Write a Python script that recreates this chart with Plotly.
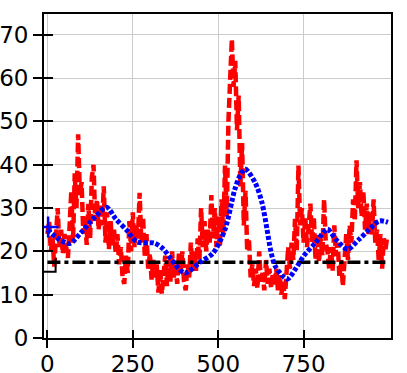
import plotly.graph_objects as go

# noisy signal, every 5 samples
red_x = list(range(0, 1000, 5))
red_y = [
    24, 27, 20, 23, 16.5, 25, 30, 21, 25, 19.5, 24, 21, 18.5, 26, 34, 22, 38, 30, 47, 33,
    36, 24, 28, 21.5, 31, 23, 37, 40, 27, 32, 25, 31, 26, 35, 22, 29, 20.5, 27, 21, 25,
    19.5, 24, 17, 21, 14, 12.5, 19, 15, 27, 20, 29, 21, 26, 23, 33.5, 22, 28, 19, 24, 16,
    19.5, 13.5, 18, 14, 17, 10.5, 16, 10.2, 15, 19, 12, 18, 13, 20, 14, 17, 12.5, 19.5, 15, 20,
    13, 11, 17, 14, 22, 16, 20, 15.5, 23, 18, 30, 21, 27, 20, 25, 22, 33, 23, 30, 21,
    28, 21, 32, 24, 39.8, 28, 50, 60, 69, 58, 64, 48, 56, 35, 45, 26, 34, 20, 23, 14,
    17, 12, 16, 11.5, 20, 13, 15, 11, 18, 12.5, 16, 11.5, 15, 12, 16, 11, 14.5, 10, 13, 9,
    17, 21, 16, 22, 18, 27.5, 20, 39.8, 26, 30, 22, 28, 21, 25, 31, 22, 28, 18, 24, 17.5,
    23, 19, 32, 22, 20, 16, 21, 15.5, 26, 19, 22, 14, 18, 12, 20, 24, 18, 26, 22, 32,
    27, 41, 30, 36, 28, 34, 25, 31, 24, 29, 23.5, 32, 22, 25, 18, 24, 16, 23, 20.5, 23.5,
]

# smoothed curve
blue_x = [0, 30, 65, 100, 140, 173, 200, 232, 262, 314, 340, 364, 402, 447, 485, 520, 549,
          564, 579, 608, 628, 643, 653, 667, 702, 726, 751, 785, 820, 844, 879, 913, 972, 997]
blue_y = [25, 23, 21.8, 24.5, 28, 30.2, 27.5, 24.9, 22.2, 21.9, 20.5, 18, 15, 17.5, 19.6, 25.1, 34.4,
          37.5, 39, 35.9, 31.3, 25.1, 20.5, 16.6, 13.6, 15.9, 19, 22, 25.1, 22.8, 20.5, 22.8, 27, 26.7]

# mean level and the small step at the start
level_x = [0, 995]
level_y = [17.5, 17.5]
step_x = [-10, 24, 24]
step_y = [15.3, 15.3, 18.4]
start_x = [2]
start_y = [25.6]

y_ticks = [0, 10, 20, 30, 40, 50, 60, 70]
x_ticks = [0, 250, 500, 750]

fig = go.Figure()
fig.add_trace(go.Scatter(x=red_x, y=red_y, mode='lines',
                         line=dict(color='#ff0000', width=4.5, dash='10px,4px')))
fig.add_trace(go.Scatter(x=step_x, y=step_y, mode='lines',
                         line=dict(color='black', width=2)))
fig.add_trace(go.Scatter(x=level_x, y=level_y, mode='lines',
                         line=dict(color='black', width=3.5, dash='13px,4px,4px,4px')))
fig.add_trace(go.Scatter(x=blue_x, y=blue_y, mode='lines',
                         line=dict(color='#0000ff', width=5, dash='4px,2px', shape='spline', smoothing=0.8)))
fig.add_trace(go.Scatter(x=start_x, y=start_y, mode='markers',
                         marker=dict(symbol='cross-thin', size=15, line=dict(color='#0000ff', width=2.5))))
# invisible copy so the second axes (inner tick halves) get drawn
fig.add_trace(go.Scatter(x=level_x, y=level_y, mode='lines', xaxis='x2', yaxis='y2',
                         line=dict(width=0), hoverinfo='skip'))

xr = [-10, 1006]
yr = [0, 74.8]
fnt = dict(family='DejaVu Sans', size=23, color='black')

fig.update_layout(
    width=407, height=373,
    margin=dict(l=44, r=16, t=14, b=35),
    paper_bgcolor='white', plot_bgcolor='white',
    showlegend=False,
    font=fnt,
    xaxis=dict(range=xr, tickvals=x_ticks, ticks='outside', ticklen=8, tickwidth=2, tickcolor='black',
               showline=True, linewidth=2, linecolor='black', mirror=True, automargin=False,
               showgrid=True, gridcolor='#cccccc', gridwidth=1, zeroline=False, tickfont=fnt,
               ticklabelstandoff=-4),
    yaxis=dict(range=yr, tickvals=y_ticks, ticks='outside', ticklen=9, tickwidth=2, tickcolor='black',
               showline=True, linewidth=2, linecolor='black', mirror=True, automargin=False,
               showgrid=True, gridcolor='#cccccc', gridwidth=1, zeroline=False, tickfont=fnt),
    xaxis2=dict(range=xr, tickvals=x_ticks, ticks='inside', ticklen=8, tickwidth=2, tickcolor='black',
                showticklabels=False, showgrid=False, zeroline=False, overlaying='x', side='bottom',
                automargin=False),
    yaxis2=dict(range=yr, tickvals=y_ticks, ticks='inside', ticklen=9, tickwidth=2, tickcolor='black',
                showticklabels=False, showgrid=False, zeroline=False, overlaying='y', side='left',
                automargin=False),
)

# drop the default 8px body margin so the figure fills the window
fig.write_html("out.html", config={'displayModeBar': False},
               post_script="document.body.style.margin='0';")
